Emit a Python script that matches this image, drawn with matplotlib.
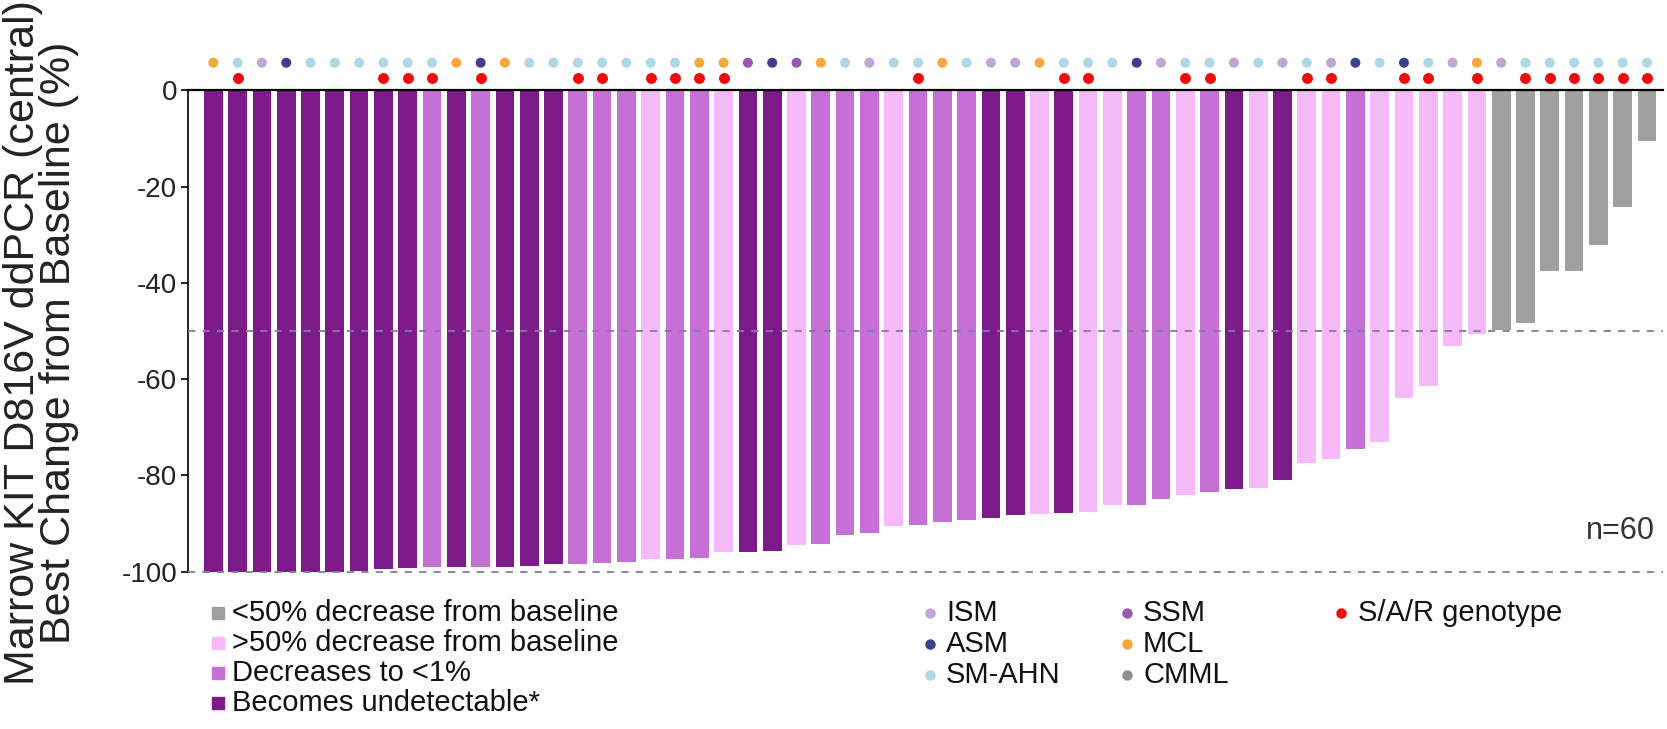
import matplotlib
matplotlib.use("Agg")
import matplotlib.pyplot as plt
from matplotlib.lines import Line2D

plt.rcParams['font.family'] = ['Liberation Sans', 'DejaVu Sans']

# ---------------- data ----------------
best_change = [-100, -100, -100, -100, -100, -100, -99.8, -99.4, -99.2, -99.1,
               -99.1, -99.0, -99.0, -98.8, -98.5, -98.3, -98.2, -97.9, -97.4, -97.3,
               -97.2, -96.0, -96.0, -95.8, -94.4, -94.3, -92.3, -92.0, -90.5, -90.4,
               -89.6, -89.3, -88.9, -88.2, -88.0, -87.8, -87.5, -86.2, -86.1, -84.8,
               -84.0, -83.5, -82.8, -82.6, -81.0, -77.4, -76.5, -74.5, -73.1, -64.0,
               -61.5, -53.1, -50.6, -49.8, -48.4, -37.6, -37.5, -32.1, -24.3, -10.5]

# U = becomes undetectable, D = decreases to <1%, P = >50% decrease, G = <50% decrease
response = ['U', 'U', 'U', 'U', 'U', 'U', 'U', 'U', 'U', 'D',
            'U', 'D', 'U', 'U', 'U', 'D', 'D', 'D', 'P', 'D',
            'D', 'P', 'U', 'U', 'P', 'D', 'D', 'D', 'P', 'D',
            'D', 'D', 'U', 'U', 'P', 'U', 'P', 'P', 'D', 'D',
            'P', 'D', 'U', 'P', 'U', 'P', 'P', 'D', 'P', 'P',
            'P', 'P', 'P', 'G', 'G', 'G', 'G', 'G', 'G', 'G']

subtype = ['MCL', 'SM-AHN', 'ISM', 'ASM', 'SM-AHN', 'SM-AHN', 'SM-AHN', 'SM-AHN', 'SM-AHN', 'SM-AHN',
           'MCL', 'ASM', 'MCL', 'SM-AHN', 'SM-AHN', 'SM-AHN', 'SM-AHN', 'SM-AHN', 'SM-AHN', 'SM-AHN',
           'MCL', 'MCL', 'SSM', 'ASM', 'SSM', 'MCL', 'SM-AHN', 'ISM', 'SM-AHN', 'SM-AHN',
           'MCL', 'SM-AHN', 'ISM', 'ISM', 'MCL', 'SM-AHN', 'SM-AHN', 'SM-AHN', 'ASM', 'ISM',
           'SM-AHN', 'SM-AHN', 'ISM', 'SM-AHN', 'ISM', 'SM-AHN', 'ISM', 'ASM', 'SM-AHN', 'ASM',
           'SM-AHN', 'ISM', 'MCL', 'ISM', 'SM-AHN', 'SM-AHN', 'SM-AHN', 'SM-AHN', 'SM-AHN', 'SM-AHN']

sar_genotype = [0, 1, 0, 0, 0, 0, 0, 1, 1, 1,
                0, 1, 0, 0, 0, 1, 1, 0, 1, 1,
                1, 1, 0, 0, 0, 0, 0, 0, 0, 1,
                0, 0, 0, 0, 0, 1, 1, 0, 0, 0,
                1, 1, 0, 0, 0, 1, 1, 0, 0, 1,
                1, 0, 1, 0, 1, 1, 1, 1, 1, 1]

response_labels = ['<50% decrease from baseline', '>50% decrease from baseline',
                   'Decreases to <1%', 'Becomes undetectable*']
response_keys = ['G', 'P', 'D', 'U']
subtype_legend = ['ISM', 'ASM', 'SM-AHN', 'SSM', 'MCL', 'CMML']

# ---------------- styles ----------------
resp_colors = {'U': '#7D1A8A', 'D': '#C66FD6', 'P': '#F6B9FA', 'G': '#A0A0A0'}
sub_colors = {'ISM': '#C3A5D5', 'ASM': '#3B3F8C', 'SM-AHN': '#AED8E6',
              'SSM': '#9857B0', 'MCL': '#F5A93B', 'CMML': '#8E8E8E'}
red = '#F20A0A'

W, H = 1667, 729
fig = plt.figure(figsize=(W / 100, H / 100), dpi=100)
ax = fig.add_axes([188.3 / W, 1 - 571.7 / H, (1663 - 188.3) / W, 481.3 / H])

x = list(range(len(best_change)))
ax.bar(x, best_change, width=0.77, color=[resp_colors[r] for r in response], zorder=2)

ax.set_xlim(-1.03, 59.66)
ax.set_ylim(-100, 0)

# dashed reference lines
for yv in (-50, -100):
    ax.axhline(yv, color='#7C7FA0', lw=1.3, ls=(0, (4, 4)), zorder=4, clip_on=False)
ax.axhline(0, color='black', lw=1.6, zorder=5, clip_on=False)

# subtype dots and genotype dots above the bars
ax.scatter(x, [5.75] * len(x), s=52, c=[sub_colors[s] for s in subtype],
           clip_on=False, zorder=6, linewidths=0)
gx = [i for i, g in zip(x, sar_genotype) if g]
ax.scatter(gx, [2.64] * len(gx), s=62, c=red, clip_on=False, zorder=6, linewidths=0)

# axes styling
for s in ('top', 'right', 'bottom'):
    ax.spines[s].set_visible(False)
ax.spines['left'].set_linewidth(1.2)
ax.set_xticks([])
ax.set_yticks([0, -20, -40, -60, -80, -100])
ax.set_yticklabels(['0', '-20', '-40', '-60', '-80', '-100'])
ax.tick_params(axis='y', length=5, width=1.2, labelsize=20, pad=3, colors='black',
               labelcolor='#222222')

fig.text(41 / W, 1 - 343 / H, 'Marrow KIT D816V ddPCR (central)\nBest Change from Baseline (%)',
         rotation=90, ha='center', va='center', multialignment='center',
         fontsize=31, linespacing=0.88, color='#222222')

ax.text(0.9946, 0.0845, 'n=60', transform=ax.transAxes, ha='right', va='center',
        fontsize=22, color='#333333')

# legend: response
for i, (k, lab) in enumerate(zip(response_keys, response_labels)):
    yy = 1 - (613 + 30 * i) / H
    fig.add_artist(Line2D([218 / W], [yy], marker='s', ms=8.5, color=resp_colors[k],
                          ls='none', transform=fig.transFigure))
    fig.text(232 / W, yy, lab, ha='left', va='center', fontsize=21, color='#111111')

# legend: subtypes
for i, lab in enumerate(subtype_legend):
    col, row = divmod(i, 3)
    yy = 1 - (613 + 31 * row) / H
    dx = 930 if col == 0 else 1127
    fig.add_artist(Line2D([dx / W], [yy], marker='o', ms=6.5, color=sub_colors[lab],
                          ls='none', transform=fig.transFigure))
    fig.text((dx + 16) / W, yy, lab, ha='left', va='center', fontsize=21, color='#111111')

yy = 1 - 613 / H
fig.add_artist(Line2D([1341 / W], [yy], marker='o', ms=6.5, color=red,
                      ls='none', transform=fig.transFigure))
fig.text(1358 / W, yy, 'S/A/R genotype', ha='left', va='center', fontsize=21, color='#111111')

fig.savefig('out.png', dpi=100)
